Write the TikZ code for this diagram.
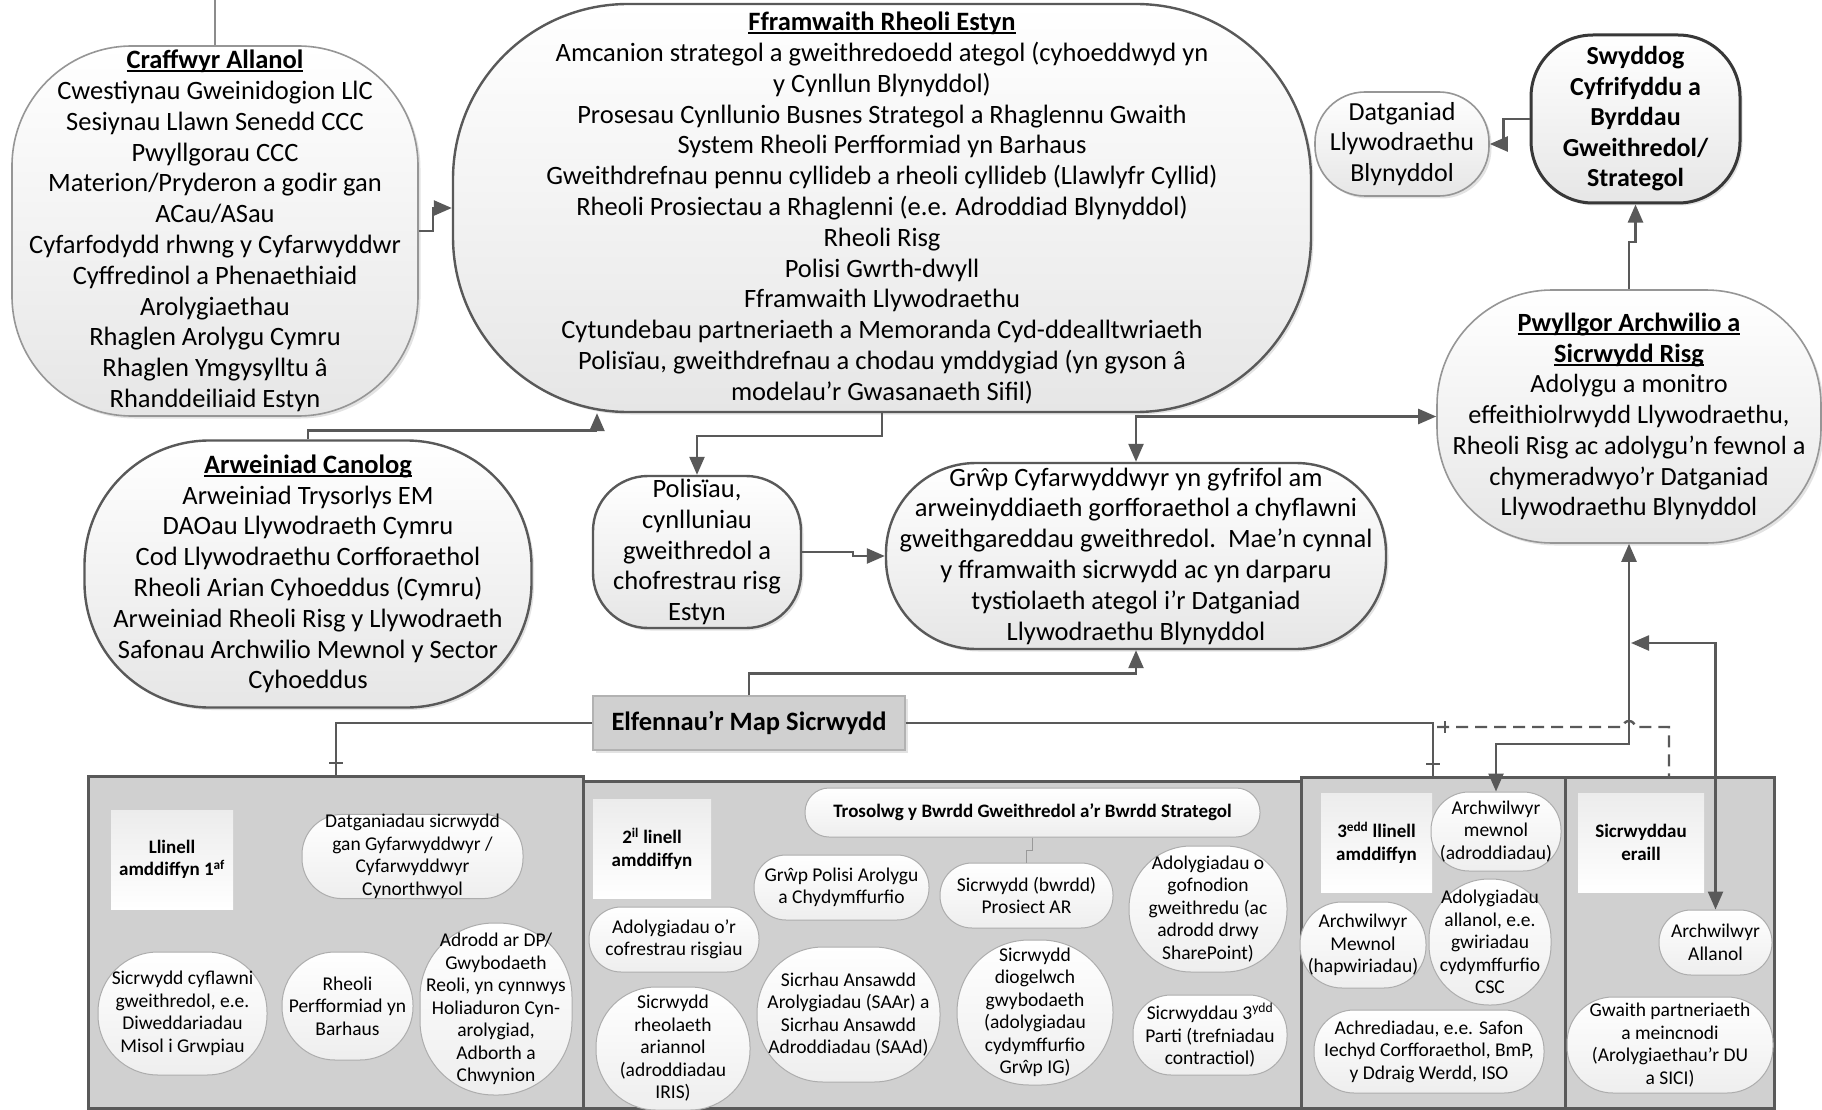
\documentclass[tikz,border=0pt]{standalone}
\usepackage{fontspec}
\setmainfont{Carlito}
\usetikzlibrary{arrows.meta,shadows,calc}
\definecolor{linec}{RGB}{89,89,89}
\definecolor{lightb}{RGB}{150,150,150}
\definecolor{panelc}{RGB}{208,208,208}
\definecolor{nodebot}{RGB}{230,230,230}
\definecolor{pillbot}{RGB}{238,238,238}
\definecolor{hdrtop}{RGB}{236,236,236}
\newcommand\myul[1]{\setbox0=\hbox{#1}\rlap{\rule[-3.5pt]{\wd0}{1.8pt}}\box0}
\begin{document}
\begin{tikzpicture}[x=1pt,y=-1pt,
 mainf/.style={font=\fontsize{26.5}{30.8}\selectfont},
 topbox/.style={draw=linec, line width=2.4pt, top color=white, bottom color=nodebot, align=center, inner sep=0pt, mainf, drop shadow={shadow xshift=2.5pt,shadow yshift=-2.5pt,opacity=0.22}},
 litebox/.style={topbox, draw=lightb, line width=1.6pt},
 sect/.style={draw=linec, line width=3pt, fill=panelc, inner sep=0pt},
 hdr/.style={top color=hdrtop, bottom color=white, draw=none, align=center, inner sep=0pt, font=\fontsize{19}{22.5}\selectfont\bfseries},
 pill/.style={draw=black!32, line width=1pt, top color=white, bottom color=pillbot, align=center, inner sep=0pt, font=\fontsize{19.5}{22.5}\selectfont},
 cnx/.style={draw=linec, line width=2.4pt},
 cnxa/.style={cnx, -{Triangle[length=18pt,width=15pt]}},
 cnxab/.style={cnx, {Triangle[length=18pt,width=15pt]}-{Triangle[length=18pt,width=15pt]}},
]
\useasboundingbox (0,0) rectangle (1822,1110);
\fill[white] (0,0) rectangle (1822,1110);

% ---------- upper nodes ----------
\node[litebox, minimum width=406pt, minimum height=370pt, rounded corners=120pt] (craff) at (215,231)
 {\myul{\bfseries Craffwyr Allanol}\\Cwestiynau Gweinidogion LlC\\Sesiynau Llawn Senedd CCC\\Pwyllgorau CCC\\Materion/Pryderon a godir gan\\ACau/ASau\\Cyfarfodydd rhwng y Cyfarwyddwr\\Cyffredinol a Phenaethiaid\\Arolygiaethau\\Rhaglen Arolygu Cymru\\Rhaglen Ymgysylltu â\\Rhanddeiliaid Estyn};

\node[topbox, minimum width=858pt, minimum height=408pt, rounded corners=175pt] (ffram) at (882,208)
 {\myul{\bfseries Fframwaith Rheoli Estyn}\\Amcanion strategol a gweithredoedd ategol (cyhoeddwyd yn\\y Cynllun Blynyddol)\\Prosesau Cynllunio Busnes Strategol a Rhaglennu Gwaith\\System Rheoli Perfformiad yn Barhaus\\Gweithdrefnau pennu cyllideb a rheoli cyllideb (Llawlyfr Cyllid)\\Rheoli Prosiectau a Rhaglenni (e.e. Adroddiad Blynyddol)\\Rheoli Risg\\Polisi Gwrth-dwyll\\Fframwaith Llywodraethu\\Cytundebau partneriaeth a Memoranda Cyd-ddealltwriaeth\\Polisïau, gweithdrefnau a chodau ymddygiad (yn gyson â\\modelau’r Gwasanaeth Sifil)};

\node[litebox, minimum width=174pt, minimum height=104pt, rounded corners=50pt, font=\fontsize{26}{30.5}\selectfont] (datg) at (1402,144)
 {Datganiad\\Llywodraethu\\Blynyddol};

\node[topbox, draw=black!78, line width=3pt, minimum width=209pt, minimum height=168pt, rounded corners=62pt, font=\fontsize{26}{30.5}\selectfont\bfseries] (swyd) at (1635.5,119)
 {Swyddog\\Cyfrifyddu a\\Byrddau\\Gweithredol/\\Strategol};

\node[litebox, minimum width=384pt, minimum height=253pt, rounded corners=115pt, font=\fontsize{26.3}{30.7}\selectfont] (pwyll) at (1629,416.5)
 {\myul{\bfseries Pwyllgor Archwilio a}\\\myul{\bfseries Sicrwydd Risg}\\Adolygu a monitro\\effeithiolrwydd Llywodraethu,\\Rheoli Risg ac adolygu’n fewnol a\\chymeradwyo’r Datganiad\\Llywodraethu Blynyddol};

\node[topbox, minimum width=447pt, minimum height=267pt, rounded corners=125pt] (arwein) at (308,574)
 {\myul{\bfseries Arweiniad Canolog}\\Arweiniad Trysorlys EM\\DAOau Llywodraeth Cymru\\Cod Llywodraethu Corfforaethol\\Rheoli Arian Cyhoeddus (Cymru)\\Arweiniad Rheoli Risg y Llywodraeth\\Safonau Archwilio Mewnol y Sector\\Cyhoeddus};

\node[topbox, minimum width=208pt, minimum height=152pt, rounded corners=55pt] (polis) at (697,552)
 {Polisïau,\\cynlluniau\\gweithredol a\\chofrestrau risg\\Estyn};

\node[topbox, minimum width=500pt, minimum height=186pt, rounded corners=90pt] (grwp) at (1136,556)
 {Grŵp Cyfarwyddwyr yn gyfrifol am\\arweinyddiaeth gorfforaethol a chyflawni\\gweithgareddau gweithredol.\ \ Mae’n cynnal\\y fframwaith sicrwydd ac yn darparu\\tystiolaeth ategol i’r Datganiad\\Llywodraethu Blynyddol};

\node[draw=black!30, line width=1.2pt, fill=panelc, inner sep=0pt, minimum width=312pt, minimum height=54pt, font=\fontsize{26.5}{30.8}\selectfont\bfseries, drop shadow={shadow xshift=2.5pt,shadow yshift=-2.5pt,opacity=0.22}] (elf) at (749,723)
 {Elfennau’r Map Sicrwydd};

% ---------- upper connectors ----------
\coordinate (top0) at (215,0);
\draw[draw=black!45, line width=1.2pt] (craff.north) -- (top0);
\draw[cnxa] (craff.east) -- ++(14,0) |- (ffram.west);
\draw[cnxa] (arwein.north) -- ++(0,-9) -| ($(ffram.south)+(-285,0)$);
\draw[cnxa] (ffram.south) -- ++(0,23) -| (polis.north);
\draw[cnxa] (polis.east) -- ++(51,0) |- (grwp.west);
\draw[cnxab] (grwp.north) |- (pwyll.west);
\draw[cnxa] (elf.north) -- ++(0,-22) -| (grwp.south);
\draw[cnxa] (swyd.west) -- ++(-26,0) |- (datg.east);
\draw[cnxa] (pwyll.north) -- ++(0,-47) -| (swyd.south);

% ---------- bottom panel ----------
\node[sect, minimum width=718pt, minimum height=327pt] (sec2) at (942,944.5) {};
\node[sect, minimum width=495pt, minimum height=332pt] (sec1) at (335.5,942) {};
\node[sect, minimum width=264pt, minimum height=331pt] (sec3) at (1433,942.5) {};
\node[sect, minimum width=209pt, minimum height=331pt] (sec4) at (1669.5,942.5) {};

\node[hdr, minimum width=122pt, minimum height=99pt] (h1) at (172,859.5) {Llinell\\amddiffyn 1\textsuperscript{af}};
\node[hdr, minimum width=118pt, minimum height=99pt] (h2) at (652,848.5) {2\textsuperscript{il} linell\\amddiffyn};
\node[hdr, minimum width=111pt, minimum height=99pt] (h3) at (1376.5,842.5) {3\textsuperscript{edd} llinell\\amddiffyn};
\node[hdr, minimum width=126pt, minimum height=99pt] (h4) at (1641,842.5) {Sicrwyddau\\eraill};

% section 1
\node[pill, minimum width=221pt, minimum height=83pt, rounded corners=40pt] (n1a) at (412.5,856.5) {Datganiadau sicrwydd\\gan Gyfarwyddwyr /\\Cyfarwyddwyr\\Cynorthwyol};
\node[pill, minimum width=169pt, minimum height=123pt, rounded corners=60pt] (n1b) at (182.5,1013.5) {Sicrwydd cyflawni\\gweithredol, e.e.\\Diweddariadau\\Misol i Grwpiau};
\node[pill, minimum width=131pt, minimum height=108pt, rounded corners=53pt] (n1c) at (347.5,1006) {Rheoli\\Perfformiad yn\\Barhaus};
\node[pill, minimum width=152pt, minimum height=172pt, rounded corners=74pt] (n1d) at (496,1009) {Adrodd ar DP/\\Gwybodaeth\\Reoli, yn cynnwys\\Holiaduron Cyn-\\arolygiad,\\Adborth a\\Chwynion};

% section 2
\node[pill, minimum width=455pt, minimum height=49pt, rounded corners=24pt, font=\fontsize{19}{22.5}\selectfont\bfseries] (tros) at (1032.5,812.5) {Trosolwg y Bwrdd Gweithredol a’r Bwrdd Strategol};
\node[pill, minimum width=175pt, minimum height=65pt, rounded corners=32pt] (n2a) at (841.5,887.5) {Grŵp Polisi Arolygu\\a Chydymffurfio};
\node[pill, minimum width=173pt, minimum height=65pt, rounded corners=32pt] (n2b) at (1026.5,895.5) {Sicrwydd (bwrdd)\\Prosiect AR};
\node[pill, minimum width=158pt, minimum height=126pt, rounded corners=62pt] (n2c) at (1208,909) {Adolygiadau o\\gofnodion\\gweithredu (ac\\adrodd drwy\\SharePoint)};
\node[pill, minimum width=170pt, minimum height=65pt, rounded corners=32pt] (n2d) at (674,939.5) {Adolygiadau o’r\\cofrestrau risgiau};
\node[pill, minimum width=154pt, minimum height=123pt, rounded corners=60pt] (n2e) at (673,1048.5) {Sicrwydd\\rheolaeth\\ariannol\\(adroddiadau\\IRIS)};
\node[pill, minimum width=183pt, minimum height=135pt, rounded corners=66pt] (n2f) at (848.5,1014.5) {Sicrhau Ansawdd\\Arolygiadau (SAAr) a\\Sicrhau Ansawdd\\Adroddiadau (SAAd)};
\node[pill, minimum width=156pt, minimum height=145pt, rounded corners=72pt] (n2g) at (1035,1012.5) {Sicrwydd\\diogelwch\\gwybodaeth\\(adolygiadau\\cydymffurfio\\Grŵp IG)};
\node[pill, minimum width=154pt, minimum height=80pt, rounded corners=38pt] (n2h) at (1210,1035) {Sicrwyddau 3\textsuperscript{ydd}\\Parti (trefniadau\\contractiol)};
\draw[draw=black!40, line width=1pt] (tros.south) -- ++(0,13) -| (n2b.north);

% section 3
\node[pill, minimum width=130pt, minimum height=79pt, rounded corners=38pt] (awm) at (1496,831.5) {Archwilwyr\\mewnol\\(adroddiadau)};
\node[pill, minimum width=126pt, minimum height=86pt, rounded corners=42pt] (n3b) at (1363,945) {Archwilwyr\\Mewnol\\(hapwiriadau)};
\node[pill, minimum width=122pt, minimum height=126pt, rounded corners=60pt] (n3c) at (1490,942) {Adolygiadau\\allanol, e.e.\\gwiriadau\\cydymffurfio\\CSC};
\node[pill, minimum width=230pt, minimum height=83pt, rounded corners=40pt] (n3d) at (1429,1051.5) {Achrediadau, e.e. Safon\\Iechyd Corfforaethol, BmP,\\y Ddraig Werdd, ISO};

% section 4
\node[pill, minimum width=113pt, minimum height=65pt, rounded corners=32pt] (awa) at (1715.5,942.5) {Archwilwyr\\Allanol};
\node[pill, minimum width=206pt, minimum height=96pt, rounded corners=46pt] (n4b) at (1670,1045) {Gwaith partneriaeth\\a meincnodi\\(Arolygiaethau’r DU\\a SICI)};

% ---------- lower connectors ----------
\coordinate (t1) at (336,776);
\coordinate (t3) at (1433,777);
\coordinate (d0) at (1437,727);
\coordinate (d1) at (1669,777);
\coordinate (j1) at (1631,643);
\draw[cnx] (elf.west) -| (t1);
\draw[cnx] ($(t1)+(-7,-13)$) -- ++(14,0);
\draw[cnx] (elf.east) -| (t3);
\draw[cnx] ($(t3)+(-7,-13)$) -- ++(14,0);
\draw[cnx, dash pattern=on 12pt off 7pt] (d0) -- (1623,727) arc[start angle=180,end angle=360,radius=6] -- (1669,727) -- (d1);
\draw[cnx] ($(d0)+(8,-6)$) -- ++(0,12);
\draw[cnxab] (pwyll.south) -- ++(0,200) -| (awm.north);
\draw[cnxab] (j1) -| (awa.north);
\end{tikzpicture}
\end{document}
